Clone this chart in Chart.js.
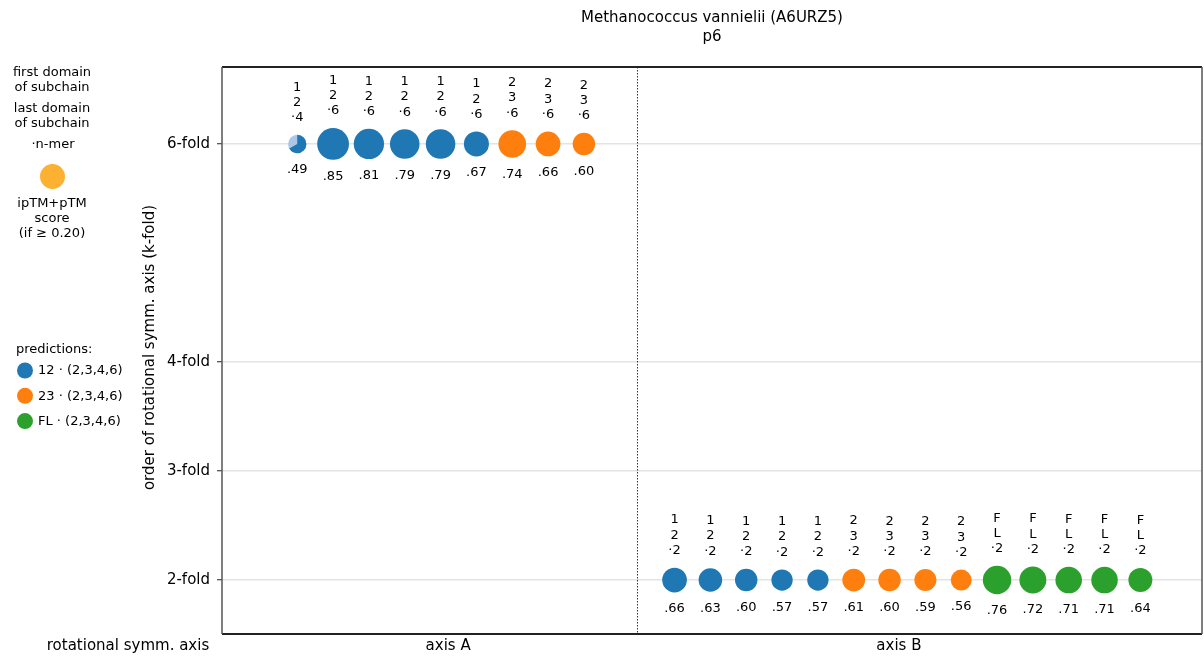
<!DOCTYPE html>
<html>
<head>
<meta charset="utf-8">
<script src="https://cdn.jsdelivr.net/npm/chart.js@4/dist/chart.umd.min.js"></script>
<style>
  html, body { margin: 0; padding: 0; background: #fff; overflow: hidden; }
  #wrap { width: 1204px; height: 657px; }
  #c { display: block; }
</style>
</head>
<body>
<div id="wrap"><canvas id="c" width="1204" height="657"></canvas></div>
<script>
// ---- data ----
const titleLines = ['Methanococcus vannielii (A6URZ5)', 'p6'];
const foldTicks = [2, 3, 4, 6];
const axisNames = ['axis A', 'axis B'];

// axis A: predictions on the 6-fold axis
const foldA = 6;
const predA = ['12', '12', '12', '12', '12', '12', '23', '23', '23'];
const nmerA = [4, 6, 6, 6, 6, 6, 6, 6, 6];
const scoreA = [0.49, 0.85, 0.81, 0.79, 0.79, 0.67, 0.74, 0.66, 0.60];

// axis B: predictions on the 2-fold axis
const foldB = 2;
const predB = ['12', '12', '12', '12', '12', '23', '23', '23', '23', 'FL', 'FL', 'FL', 'FL', 'FL'];
const nmerB = [2, 2, 2, 2, 2, 2, 2, 2, 2, 2, 2, 2, 2, 2];
const scoreB = [0.66, 0.63, 0.60, 0.57, 0.57, 0.61, 0.60, 0.59, 0.56, 0.76, 0.72, 0.71, 0.71, 0.64];

const predLegend = ['12', '23', 'FL'];
const predLegendSuffix = '(2,3,4,6)';

// ---- styling / layout ----
const FONT = "'DejaVu Sans', sans-serif";
const predColor = { '12': '#1f77b4', '23': '#ff7f0e', 'FL': '#2ca02c' };
const predLight = { '12': '#aec7e8', '23': '#ffbb78', 'FL': '#98df8a' };
const RADIUS_PER_SCORE = 18.7;
const X_MAX = 27.35;
const GROUP_START = [2.1, 12.63];
const GROUP_TICK = [6.31, 18.89];
const DIVIDER_X = 11.58;

function buildPoints(fold, preds, nmers, scores, start) {
  return scores.map((s, i) => ({
    x: start + i, y: fold, score: s, pred: preds[i], nmer: nmers[i], fold: fold
  }));
}
const pointsA = buildPoints(foldA, predA, nmerA, scoreA, GROUP_START[0]);
const pointsB = buildPoints(foldB, predB, nmerB, scoreB, GROUP_START[1]);

const radiusOf = ctx => ctx.raw ? ctx.raw.score * RADIUS_PER_SCORE : 0;
const fillOf = ctx => {
  const p = ctx.raw; if (!p) return '#000';
  return p.nmer < p.fold ? predLight[p.pred] : predColor[p.pred];
};

const decorations = {
  id: 'decorations',
  beforeDatasetsDraw(chart) {
    const { ctx, chartArea: a, scales: { x } } = chart;
    ctx.save();
    const dx = Math.round(x.getPixelForValue(DIVIDER_X)) + 0.5;
    ctx.strokeStyle = '#333';
    ctx.lineWidth = 1;
    ctx.setLineDash([1.5, 1.5]);
    ctx.beginPath(); ctx.moveTo(dx, a.top); ctx.lineTo(dx, a.bottom); ctx.stroke();
    ctx.restore();
  },
  afterDatasetsDraw(chart) {
    const { ctx } = chart;
    ctx.save();
    chart.data.datasets.forEach((ds, di) => {
      const meta = chart.getDatasetMeta(di);
      meta.data.forEach((el, i) => {
        const p = ds.data[i];
        const r = p.score * RADIUS_PER_SCORE;
        // partial n-mer drawn as a pie wedge of n / k
        if (p.nmer < p.fold) {
          const frac = p.nmer / p.fold;
          ctx.fillStyle = predColor[p.pred];
          ctx.beginPath();
          ctx.moveTo(el.x, el.y);
          ctx.arc(el.x, el.y, r, -Math.PI / 2, -Math.PI / 2 + 2 * Math.PI * frac);
          ctx.closePath();
          ctx.fill();
        }
        ctx.fillStyle = '#000';
        ctx.font = '13px ' + FONT;
        ctx.textAlign = 'center';
        ctx.textBaseline = 'middle';
        const lines = [p.pred[0], p.pred[1], '\u00b7' + p.nmer];
        lines.forEach((t, j) => {
          ctx.fillText(t, el.x, el.y - r - 17 - (2 - j) * 15.3);
        });
        ctx.fillText(p.score.toFixed(2).replace(/^0/, ''), el.x, el.y + r + 16.5);
      });
    });
    ctx.restore();
  },
  afterDraw(chart) {
    const { ctx, chartArea: a } = chart;
    ctx.save();
    // frame
    ctx.strokeStyle = '#222';
    ctx.lineWidth = 2;
    ctx.beginPath();
    ctx.moveTo(a.left, a.top); ctx.lineTo(a.right, a.top);
    ctx.moveTo(a.left, a.bottom); ctx.lineTo(a.right, a.bottom);
    ctx.stroke();
    ctx.strokeStyle = '#555';
    ctx.lineWidth = 1.5;
    ctx.beginPath();
    ctx.moveTo(a.left, a.top); ctx.lineTo(a.left, a.bottom);
    ctx.moveTo(a.right, a.top); ctx.lineTo(a.right, a.bottom);
    ctx.stroke();

    ctx.fillStyle = '#000';
    ctx.textAlign = 'center';
    ctx.textBaseline = 'middle';
    // title
    ctx.font = '15px ' + FONT;
    const cx = (a.left + a.right) / 2;
    ctx.fillText(titleLines[0], cx, 18);
    ctx.fillText(titleLines[1], cx, 37);

    // y axis title
    ctx.save();
    ctx.translate(150, (a.top + a.bottom) / 2 - 3);
    ctx.rotate(-Math.PI / 2);
    ctx.fillText('order of rotational symm. axis (k-fold)', 0, 0);
    ctx.restore();

    // x axis caption at left
    ctx.fillText('rotational symm. axis', 128, 646);

    // key for the point labels
    ctx.font = '13px ' + FONT;
    const kx = 52;
    ctx.fillText('first domain', kx, 73);
    ctx.fillText('of subchain', kx, 88);
    ctx.fillText('last domain', kx, 109);
    ctx.fillText('of subchain', kx, 124);
    ctx.fillText('\u00b7n-mer', kx + 1, 145);
    ctx.fillStyle = '#fcb132';
    ctx.beginPath(); ctx.arc(kx + 0.5, 176.5, 12.5, 0, Math.PI * 2); ctx.fill();
    ctx.fillStyle = '#000';
    ctx.fillText('ipTM+pTM', kx, 204);
    ctx.fillText('score', kx, 219);
    ctx.fillText('(if \u2265 0.20)', kx, 234);

    // prediction legend
    ctx.textAlign = 'left';
    ctx.fillText('predictions:', 16, 350);
    predLegend.forEach((pr, i) => {
      const y = 370.5 + i * 25.3;
      ctx.fillStyle = predColor[pr];
      ctx.beginPath(); ctx.arc(25, y, 8, 0, Math.PI * 2); ctx.fill();
      ctx.fillStyle = '#000';
      ctx.fillText(pr + ' \u00b7 ' + predLegendSuffix, 38, y + 0.5);
    });
    ctx.restore();
  }
};

new Chart(document.getElementById('c'), {
  type: 'scatter',
  data: {
    datasets: [
      { label: axisNames[0], data: pointsA },
      { label: axisNames[1], data: pointsB }
    ]
  },
  options: {
    responsive: false,
    animation: false,
    devicePixelRatio: 1,
    layout: { autoPadding: false, padding: { top: 67, left: 0, right: 2, bottom: 0 } },
    elements: {
      point: {
        radius: radiusOf,
        hoverRadius: radiusOf,
        backgroundColor: fillOf,
        borderWidth: 0,
        pointStyle: 'circle'
      }
    },
    plugins: { legend: { display: false }, title: { display: false }, tooltip: { enabled: false } },
    scales: {
      x: {
        type: 'linear',
        min: 0, max: X_MAX,
        afterFit(s) { s.height = 23; s.paddingLeft = 0; s.paddingRight = 0; },
        afterBuildTicks(s) { s.ticks = GROUP_TICK.map(v => ({ value: v })); },
        grid: { display: false, drawTicks: false },
        border: { display: false },
        ticks: {
          autoSkip: false,
          maxRotation: 0,
          padding: 3,
          color: '#000',
          font: { family: FONT, size: 15 },
          callback: (v, i) => axisNames[i]
        }
      },
      y: {
        type: 'linear',
        min: 1.505, max: 6.706,
        afterFit(s) { s.width = 222; s.paddingTop = 0; s.paddingBottom = 0; },
        afterBuildTicks(s) { s.ticks = foldTicks.map(v => ({ value: v })); },
        grid: { color: '#e3e3e3', lineWidth: 1.5, tickColor: '#222', tickLength: 5, tickWidth: 1 },
        border: { display: false },
        ticks: {
          padding: 7,
          color: '#000',
          font: { family: FONT, size: 15 },
          callback: v => v + '-fold'
        }
      }
    }
  },
  plugins: [decorations]
});
</script>
</body>
</html>
